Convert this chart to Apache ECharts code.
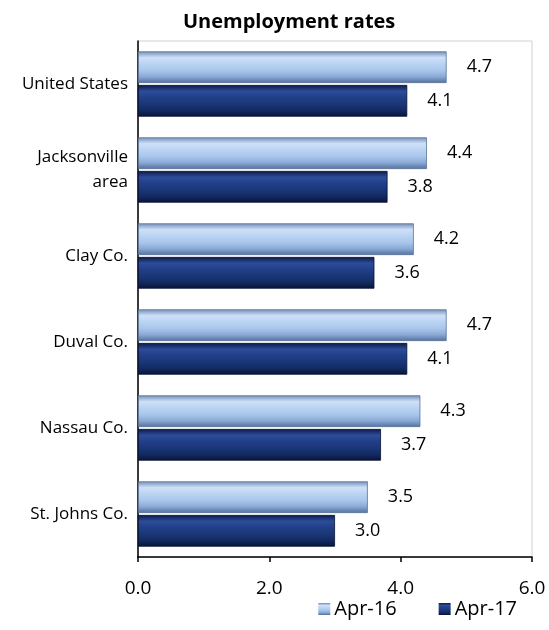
<!DOCTYPE html>
<html>
<head>
<meta charset="utf-8">
<script src="https://cdn.jsdelivr.net/npm/echarts@6/dist/echarts.min.js"></script>
<style>
html, body { margin: 0; padding: 0; background: #fff; }
#box { width: 549px; height: 630px; }
</style>
</head>
<body>
<div id="box"></div>
<script>
// 数据
var categories = ['United States', 'Jacksonville\narea', 'Clay Co.', 'Duval Co.', 'Nassau Co.', 'St. Johns Co.'];
var apr16 = [4.7, 4.4, 4.2, 4.7, 4.3, 3.5];
var apr17 = [4.1, 3.8, 3.6, 4.1, 3.7, 3.0];
var xTicks = [0, 2, 4, 6];

var fontName = '"Open Sans", "Liberation Sans", sans-serif';

// 斜面效果用竖向渐变
function bevel(stops) {
	return new echarts.graphic.LinearGradient(0, 0, 0, 1, stops.map(function(c, i) {
		return { offset: i / (stops.length - 1), color: c };
	}));
}
var lightFill = bevel(['#6f8db8', '#cfe0f7', '#b9d3f2', '#a9c6ec', '#8aa9d6', '#53709a']);
var darkFill = bevel(['#0a1a47', '#2d4d9a', '#213f88', '#1b3678', '#132a62', '#081437']);

var myChart = echarts.init(document.getElementById('box'));

var option = {
	title: {
		text: 'Unemployment rates',
		left: 178,
		top: 7,
		textStyle: { fontFamily: fontName, fontSize: 20, fontWeight: 'bold', color: '#000' }
	},
	legend: {
		right: 27,
		bottom: 6,
		itemWidth: 12,
		itemHeight: 12,
		itemGap: 42,
		icon: 'rect',
		itemStyle: { borderWidth: 0 },
		textStyle: { fontFamily: fontName, fontSize: 20, color: '#000', padding: [0, 0, 0, -1] },
		data: ['Apr-16', 'Apr-17']
	},
	grid: { left: 138, right: 17, top: 41, bottom: 73, show: true, borderColor: '#d0d0d0', borderWidth: 1 },
	xAxis: {
		type: 'value',
		min: xTicks[0],
		max: xTicks[xTicks.length - 1],
		interval: 2,
		axisLine: { show: true, lineStyle: { color: '#000', width: 1.5 } },
		axisTick: { show: true, length: 5, lineStyle: { color: '#000', width: 1.5 } },
		axisLabel: {
			color: '#000', fontFamily: fontName, fontSize: 19, margin: 22,
			formatter: function(v) { return v.toFixed(1); }
		},
		splitLine: { show: false }
	},
	yAxis: {
		type: 'category',
		inverse: true,
		data: categories,
		axisLine: { show: true, lineStyle: { color: '#000', width: 1.5 } },
		axisTick: { show: false },
		axisLabel: { color: '#000', fontFamily: fontName, fontSize: 17, margin: 10, lineHeight: 25, align: 'right' }
	},
	series: [{
			name: 'Apr-16',
			type: 'bar',
			data: apr16,
			barGap: '6%',
			barCategoryGap: '24%',
			itemStyle: { color: lightFill, borderColor: '#5b7397', borderWidth: 0.8 },
			label: {
				show: true, position: 'right', distance: 20, color: '#000',
				fontFamily: fontName, fontSize: 18,
				formatter: function(p) { return p.value.toFixed(1); }
			}
		},
		{
			name: 'Apr-17',
			type: 'bar',
			data: apr17,
			itemStyle: { color: darkFill, borderColor: '#061030', borderWidth: 0.8 },
			label: {
				show: true, position: 'right', distance: 20, color: '#000',
				fontFamily: fontName, fontSize: 18,
				formatter: function(p) { return p.value.toFixed(1); }
			}
		}
	]
};

myChart.setOption(option);
</script>
</body>
</html>
